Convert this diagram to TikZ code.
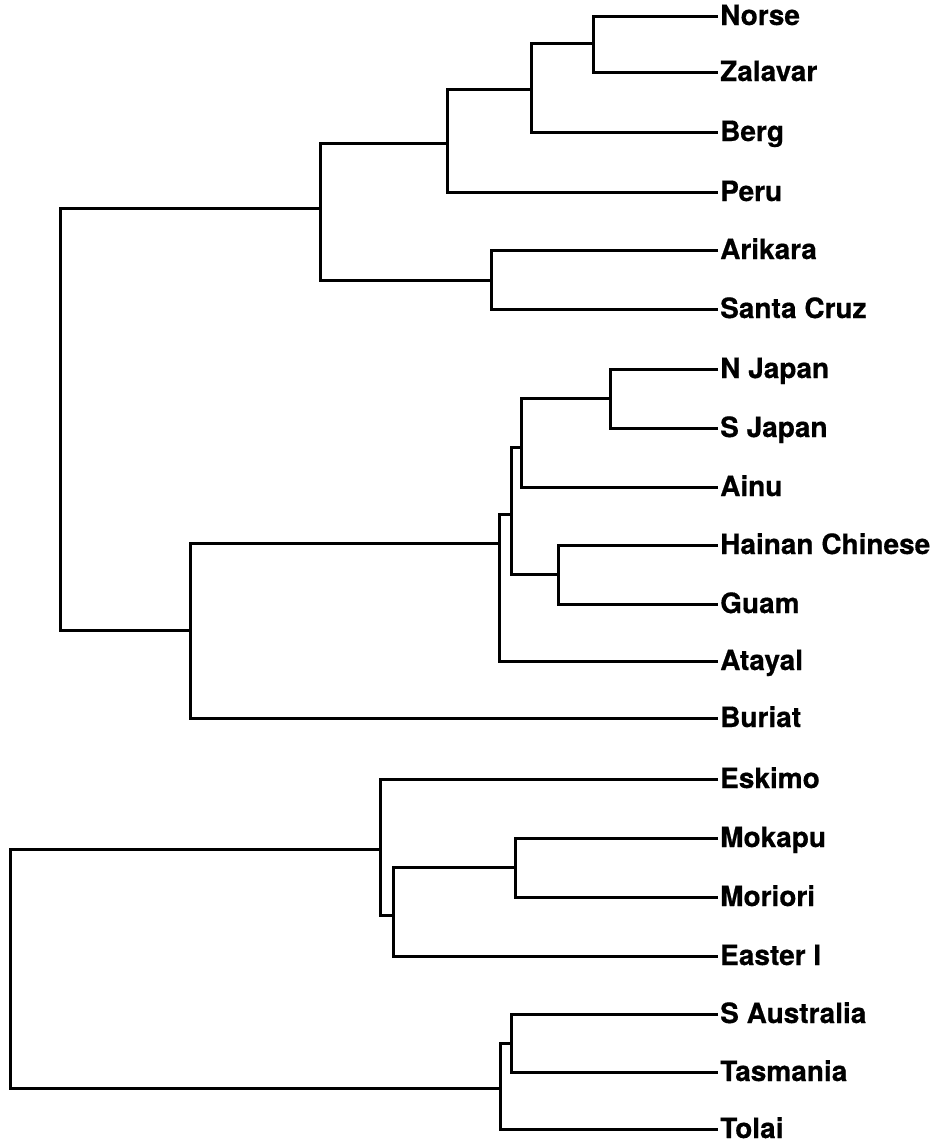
\documentclass[tikz,border=0pt]{standalone}
\usepackage{fontspec}
\setmainfont{TeX Gyre Heros}[BoldFeatures={FakeBold=0.5}]
\begin{document}
\begin{tikzpicture}[x=1pt,y=-1pt,
  lab/.style={anchor=west,inner xsep=2pt,inner ysep=0pt,text height=18pt,text depth=0pt,
    font=\fontsize{28}{28}\selectfont\bfseries},
  br/.style={line width=3pt,line join=miter,black}]
\useasboundingbox (0,0) rectangle (939,1143);
% leaves
\node[lab] (norse) at (718,16) {Norse};
\node[lab] (zalavar) at (718,72) {Zalavar};
\node[lab] (berg) at (718,132) {Berg};
\node[lab] (peru) at (718,192) {Peru};
\node[lab] (arikara) at (718,250) {Arikara};
\node[lab] (santacruz) at (718,309) {Santa Cruz};
\node[lab] (njapan) at (718,369) {N Japan};
\node[lab] (sjapan) at (718,428) {S Japan};
\node[lab] (ainu) at (718,487) {Ainu};
\node[lab] (hainan) at (718,545) {Hainan Chinese};
\node[lab] (guam) at (718,604) {Guam};
\node[lab] (atayal) at (718,661) {Atayal};
\node[lab] (buriat) at (718,718) {Buriat};
\node[lab] (eskimo) at (718,779) {Eskimo};
\node[lab] (mokapu) at (718,838) {Mokapu};
\node[lab] (moriori) at (718,897) {Moriori};
\node[lab] (easter) at (718,956) {Easter I};
\node[lab] (saus) at (718,1014) {S Australia};
\node[lab] (tasmania) at (718,1072) {Tasmania};
\node[lab] (tolai) at (718,1129) {Tolai};
% internal nodes
\coordinate (a1) at (593,43);
\coordinate (a2) at (531,89);
\coordinate (a3) at (447,143);
\coordinate (a4) at (491,280);
\coordinate (a5) at (320,208);
\coordinate (b1) at (610,398);
\coordinate (b2) at (521,447);
\coordinate (b3) at (558,574);
\coordinate (b4) at (511,514);
\coordinate (b5) at (499,543);
\coordinate (b6) at (190,630);
\coordinate (r1) at (60,420);
\coordinate (c1) at (515,867);
\coordinate (c2) at (393,915);
\coordinate (c3) at (380,849);
\coordinate (d1) at (511,1043);
\coordinate (d2) at (500,1088);
\coordinate (r2) at (10,968);
% branches
\draw[br] (norse.west) -- (norse.west -| a1) -- (zalavar.west -| a1) -- (zalavar.west);
\draw[br] (a1) -- (a1 -| a2) -- (berg.west -| a2) -- (berg.west);
\draw[br] (a2) -- (a2 -| a3) -- (peru.west -| a3) -- (peru.west);
\draw[br] (arikara.west) -- (arikara.west -| a4) -- (santacruz.west -| a4) -- (santacruz.west);
\draw[br] (a3) -- (a3 -| a5) -- (a4 -| a5) -- (a4);
\draw[br] (njapan.west) -- (njapan.west -| b1) -- (sjapan.west -| b1) -- (sjapan.west);
\draw[br] (b1) -- (b1 -| b2) -- (ainu.west -| b2) -- (ainu.west);
\draw[br] (hainan.west) -- (hainan.west -| b3) -- (guam.west -| b3) -- (guam.west);
\draw[br] (b2) -- (b2 -| b4) -- (b3 -| b4) -- (b3);
\draw[br] (b4) -- (b4 -| b5) -- (atayal.west -| b5) -- (atayal.west);
\draw[br] (b5) -- (b5 -| b6) -- (buriat.west -| b6) -- (buriat.west);
\draw[br] (a5) -- (a5 -| r1) -- (b6 -| r1) -- (b6);
\draw[br] (mokapu.west) -- (mokapu.west -| c1) -- (moriori.west -| c1) -- (moriori.west);
\draw[br] (c1) -- (c1 -| c2) -- (easter.west -| c2) -- (easter.west);
\draw[br] (eskimo.west) -- (eskimo.west -| c3) -- (c2 -| c3) -- (c2);
\draw[br] (saus.west) -- (saus.west -| d1) -- (tasmania.west -| d1) -- (tasmania.west);
\draw[br] (d1) -- (d1 -| d2) -- (tolai.west -| d2) -- (tolai.west);
\draw[br] (c3) -- (c3 -| r2) -- (d2 -| r2) -- (d2);
\end{tikzpicture}
\end{document}
